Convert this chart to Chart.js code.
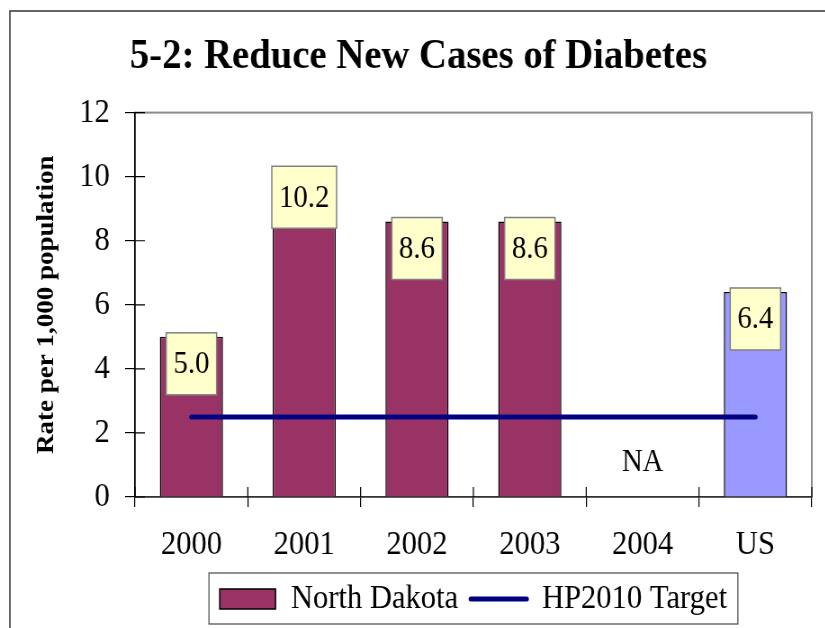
<!DOCTYPE html>
<html>
<head>
<meta charset="utf-8">
<script src="https://cdn.jsdelivr.net/npm/chart.js@4.4.1/dist/chart.umd.min.js"></script>
<style>
html, body { margin: 0; padding: 0; background: #fff; overflow: hidden; }
/* the reference text is a bit narrow, so draw wide and squeeze horizontally */
#wrap { width: 917px; height: 628px; transform: scaleX(0.9); transform-origin: 0 0; }
</style>
</head>
<body>
<div id="wrap"><canvas id="chart" width="917" height="628"></canvas></div>
<script>
const categories = ["2000", "2001", "2002", "2003", "2004", "US"];
const nd_values = [5.0, 10.2, 8.6, 8.6, null, 6.4];
const target_values = [2.5, 2.5, 2.5, 2.5, 2.5, 2.5];
const na_labels = ["", "", "", "", "NA", ""];
const y_ticks = [0, 2, 4, 6, 8, 10, 12];
const series_names = ["North Dakota", "HP2010 Target"];
const bar_colors = ["#993366", "#993366", "#993366", "#993366", "#993366", "#9999FF"];

const serif = "'Liberation Serif', 'Times New Roman', serif";

// outer border, plot frame, inner half of the tick marks, legend box
const frame_plugin = {
    id: "frame",
    beforeDraw(chart) {
        var ctx = chart.ctx;
        var a = chart.chartArea;
        ctx.save();
        ctx.strokeStyle = "#333";
        ctx.lineWidth = 1.5;
        ctx.strokeRect(11, 11, 2000, 2000);
        ctx.strokeStyle = "#8c8c8c";
        ctx.lineWidth = 2;
        ctx.strokeRect(a.left, a.top, a.right - a.left, a.bottom - a.top);
        ctx.restore();
    },
    afterDraw(chart) {
        var ctx = chart.ctx;
        var a = chart.chartArea;
        var xs = chart.scales.x;
        var ys = chart.scales.y;
        ctx.save();
        ctx.strokeStyle = "#000";
        ctx.lineWidth = 1.2;
        ctx.beginPath();
        for (var i = 0; i < y_ticks.length; i++) {
            var y = ys.getPixelForValue(y_ticks[i]);
            ctx.moveTo(a.left, y);
            ctx.lineTo(a.left + 11, y);
        }
        for (var i = 0; i <= categories.length; i++) {
            var x = xs.getPixelForValue(i - 0.5);
            ctx.moveTo(x, a.bottom);
            ctx.lineTo(x, a.bottom - 10);
        }
        ctx.stroke();

        var boxes = chart.legend.legendHitBoxes;
        var l = Infinity, r = -Infinity, t = Infinity, b = -Infinity;
        for (var i = 0; i < boxes.length; i++) {
            l = Math.min(l, boxes[i].left);
            r = Math.max(r, boxes[i].left + boxes[i].width);
            t = Math.min(t, boxes[i].top);
            b = Math.max(b, boxes[i].top + boxes[i].height);
        }
        ctx.strokeStyle = "#555";
        ctx.lineWidth = 1.3;
        ctx.strokeRect(l - 12, t - 9, r - l + 24, b - t + 17);
        ctx.restore();
    }
};

// yellow value boxes on the bars and the NA note
const label_plugin = {
    id: "valueBoxes",
    afterDatasetsDraw(chart) {
        var ctx = chart.ctx;
        var meta = chart.getDatasetMeta(0);
        ctx.save();
        ctx.font = "32px " + serif;
        ctx.textAlign = "center";
        ctx.textBaseline = "middle";
        for (var i = 0; i < meta.data.length; i++) {
            if (nd_values[i] === null) continue;
            var bar = meta.data[i];
            var txt = nd_values[i].toFixed(1);
            var w = ctx.measureText(txt).width + 16;
            var h = 62;
            var top = bar.y - 4;
            ctx.fillStyle = "#FFFFCC";
            ctx.fillRect(bar.x - w / 2, top, w, h);
            ctx.strokeStyle = "#808080";
            ctx.lineWidth = 1.5;
            ctx.strokeRect(bar.x - w / 2, top, w, h);
            ctx.fillStyle = "#000";
            ctx.fillText(txt, bar.x, top + h / 2 + 1);
        }
        var xs = chart.scales.x;
        var ys = chart.scales.y;
        for (var i = 0; i < na_labels.length; i++) {
            if (!na_labels[i]) continue;
            ctx.fillText(na_labels[i], xs.getPixelForValue(i), ys.getPixelForValue(0) - 34);
        }
        ctx.restore();
    }
};

const config = {
    type: "bar",
    data: {
        labels: categories,
        datasets: [
            {
                type: "bar",
                label: series_names[0],
                data: nd_values,
                backgroundColor: bar_colors,
                borderColor: "#000",
                borderWidth: 1.5,
                barPercentage: 0.56,
                categoryPercentage: 1,
                order: 1,
            },
            {
                type: "line",
                label: series_names[1],
                data: target_values,
                borderColor: "#000080",
                backgroundColor: "#000080",
                borderWidth: 5,
                borderCapStyle: "round",
                pointRadius: 0,
                fill: false,
                tension: 0,
                order: 0,
            },
        ],
    },
    options: {
        responsive: false,
        devicePixelRatio: 1,
        animation: false,
        layout: { padding: { left: 28, right: 15, top: 0, bottom: 2 } },
        plugins: {
            tooltip: { enabled: false },
            title: {
                display: true,
                text: "5-2: Reduce New Cases of Diabetes",
                color: "#000",
                font: { family: serif, size: 43, weight: "bold" },
                padding: { top: 31, bottom: 30 },
            },
            legend: {
                position: "bottom",
                fullSize: false,
                labels: {
                    color: "#000",
                    font: { family: serif, size: 34 },
                    usePointStyle: true,
                    pointStyleWidth: 62,
                    boxHeight: 20,
                    padding: 14,
                    generateLabels(chart) {
                        var ds = chart.data.datasets;
                        return [
                            { text: ds[0].label, fillStyle: bar_colors[0], strokeStyle: "#000", lineWidth: 1.5,
                              pointStyle: "rect", datasetIndex: 0, hidden: false },
                            { text: ds[1].label, fillStyle: ds[1].borderColor, strokeStyle: ds[1].borderColor,
                              lineWidth: 5, lineCap: "round", pointStyle: "line", datasetIndex: 1, hidden: false },
                        ];
                    },
                },
            },
        },
        scales: {
            x: {
                afterFit(s) { s.height = 71; },
                grid: { offset: true, drawOnChartArea: false, color: "#000", tickLength: 10, lineWidth: 1.2 },
                border: { color: "#333", width: 1.5 },
                ticks: { color: "#000", font: { family: serif, size: 34 }, padding: 17.6 },
            },
            y: {
                min: 0,
                max: 12,
                afterFit(s) { s.width = 122; },
                afterBuildTicks(s) { s.ticks = y_ticks.map(v => ({ value: v })); },
                grid: { drawOnChartArea: false, color: "#000", tickLength: 11, lineWidth: 1.2 },
                border: { color: "#000", width: 1.5 },
                ticks: { color: "#000", font: { family: serif, size: 34 }, padding: 17 },
                title: {
                    display: true,
                    text: "Rate per 1,000 population",
                    color: "#000",
                    font: { family: serif, size: 27, weight: "bold" },
                    padding: { top: 8, bottom: 0 },
                },
            },
        },
    },
    plugins: [frame_plugin, label_plugin],
};

new Chart(document.getElementById("chart").getContext("2d"), config);
</script>
</body>
</html>
